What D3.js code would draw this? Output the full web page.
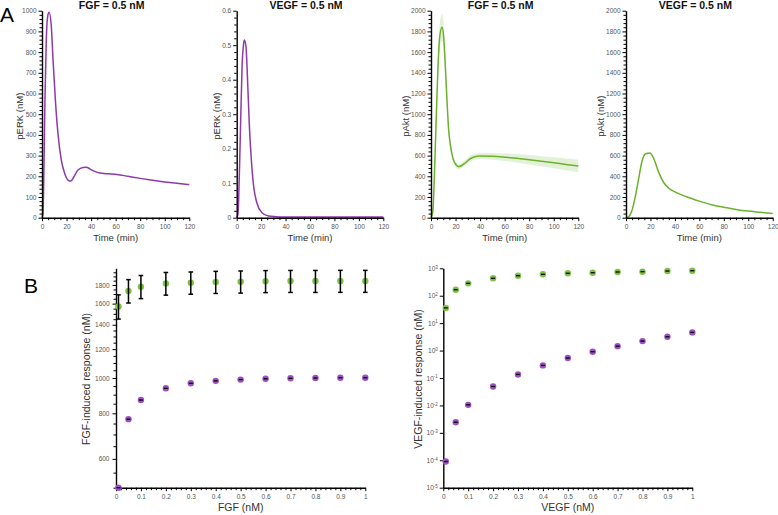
<!DOCTYPE html>
<html><head><meta charset="utf-8">
<script src="https://cdn.jsdelivr.net/npm/d3@7"></script>
<style>
body{margin:0;background:#fff}
svg{display:block}
text{font-family:"Liberation Sans",Arial,Helvetica,sans-serif}
</style>
</head><body>
<svg id="c" width="778" height="515"></svg>
<script>
// ---------------- DATA ----------------
// Panel A1: pERK, FGF = 0.5 nM
const tERK_FGF = [0, 0.8, 1.6, 2.4, 3.5, 4.6, 5.8, 7.6, 9, 10.9, 13, 15.7, 18.5, 21.2, 23.5, 26, 29.3, 33.4, 36, 39, 42, 47, 54, 61, 70, 80, 90, 100, 110, 120];
const pERK_FGF = [0, 20, 246, 568, 858, 971, 992, 923, 762, 568, 407, 279, 214, 182, 177, 198, 230, 243, 244, 236, 226, 216, 212, 209, 200, 190, 181, 173, 166, 160];
// Panel A2: pERK, VEGF = 0.5 nM
const tERK_VEGF = [0, 1, 1.6, 3, 4.4, 5.7, 6.3, 7.6, 9, 10.4, 12, 13.9, 16.6, 20.7, 26, 32, 40, 60, 80, 100, 120];
const pERK_VEGF = [0, 0.01, 0.051, 0.244, 0.438, 0.505, 0.515, 0.496, 0.389, 0.264, 0.167, 0.09, 0.042, 0.0145, 0.005, 0.003, 0.002, 0.002, 0.002, 0.002, 0.002];
// Panel A3: pAkt, FGF = 0.5 nM (with confidence band)
const tAkt_FGF = [0, 1.5, 3, 4.3, 5.7, 7.1, 9, 10.3, 11.7, 13, 14.4, 16, 17.9, 20.6, 22.5, 24.7, 27.4, 31.5, 35.6, 40, 50, 60, 70, 80, 90, 100, 110, 120];
const pAkt_FGF = [0, 60, 493, 976, 1459, 1749, 1839, 1749, 1459, 1137, 847, 686, 573, 509, 493, 502, 525, 567, 589, 596, 593, 585, 575, 560, 545, 530, 515, 500];
const pAkt_FGF_lo = [0, 55, 458, 906, 1359, 1624, 1709, 1624, 1359, 1057, 787, 641, 538, 481, 468, 477, 499, 539, 559, 566, 560, 548, 534, 515, 496, 477, 458, 440];
const pAkt_FGF_hi = [0, 65, 528, 1046, 1559, 1874, 1969, 1874, 1559, 1217, 907, 731, 608, 537, 518, 527, 551, 595, 619, 626, 626, 622, 616, 605, 594, 583, 572, 560];
// Panel A4: pAkt, VEGF = 0.5 nM
const tAkt_VEGF = [0, 2, 5, 7.6, 10.4, 13, 15.8, 19.5, 22.6, 26.7, 30.8, 35, 40, 50, 60, 70, 80, 90, 100, 110, 120];
const pAkt_VEGF = [0, 8, 74, 203, 380, 541, 615, 624, 573, 440, 340, 285, 250, 200, 160, 125, 100, 80, 64, 52, 40];

// Panel B: dose responses
const doses = [0.01, 0.05, 0.1, 0.2, 0.3, 0.4, 0.5, 0.6, 0.7, 0.8, 0.9, 1];
const fgfAkt = [1571, 1734, 1781, 1818, 1826, 1834, 1838, 1843, 1845, 1845, 1846, 1846];
const fgfAktErr = [120, 128, 130, 130, 128, 128, 128, 128, 128, 128, 128, 128];
const fgfERK = [500, 771, 870, 937, 967, 982, 990, 995, 998, 1000, 1002, 1002];
const vegfAkt = [36, 166, 283, 431, 537, 603, 660, 690, 733, 752, 795, 816];
const vegfERK = [9e-5, 2.45e-3, 0.0105, 0.049, 0.135, 0.288, 0.535, 0.91, 1.45, 2.22, 3.18, 4.6];

const timeTicks = [0, 20, 40, 60, 80, 100, 120];
const doseTicks = [0, 0.1, 0.2, 0.3, 0.4, 0.5, 0.6, 0.7, 0.8, 0.9, 1];
const fgfRespTicks = [600, 800, 1000, 1200, 1400, 1600, 1800];
const vegfRespTicks = [1e-5, 1e-4, 1e-3, 1e-2, 1e-1, 1e0, 1e1, 1e2, 1e3];

// ---------------- STYLE ----------------
const PURPLE = "#8e3aa8", GREEN = "#6cb22c";
const DOT_P = "#9d4fc4", DOT_G = "#7dc142";
const LABEL = "#555";
const TICK_FS = 6.5;
const svg = d3.select("#c");

function minors(lo, hi, step, isMajor) {
  const out = [];
  const n = Math.round((hi - lo) / step);
  for (let i = 0; i <= n; i++) {
    const v = +(lo + i * step).toFixed(6);
    if (!isMajor(v)) out.push(v);
  }
  return out;
}
function styleAxis(g) {
  g.select(".domain").attr("stroke", "#000").attr("stroke-width", 1.4);
  g.selectAll(".tick line").attr("stroke", "#000").attr("stroke-width", 1);
  g.selectAll(".tick text").attr("fill", LABEL).attr("font-size", TICK_FS);
}
function minorStyle(a) { a.select(".domain").remove(); a.selectAll("line").attr("stroke", "#000"); }

// ---------------- TOP PANELS ----------------
const TOP_Y0 = 217.7, TOP_Y1 = 10.7;
function timePanel(o) {
  const x = d3.scaleLinear().domain([0, 120]).range([o.x0, o.x1]);
  const y = d3.scaleLinear().domain([0, o.ymax]).range([TOP_Y0, TOP_Y1]);
  const g = svg.append("g");
  if (o.lo) {
    g.append("path")
      .datum(o.t.map((t, i) => [t, o.lo[i], o.hi[i]]))
      .attr("d", d3.area().x(d => x(d[0])).y0(d => y(d[1])).y1(d => y(d[2])).curve(d3.curveMonotoneX))
      .attr("fill", o.color).attr("fill-opacity", 0.18);
  }
  g.append("path")
    .datum(o.t.map((t, i) => [t, o.v[i]]))
    .attr("d", d3.line().x(d => x(d[0])).y(d => y(d[1])).curve(d3.curveMonotoneX))
    .attr("fill", "none").attr("stroke", o.color).attr("stroke-width", 1.5);

  g.append("g").attr("transform", `translate(0,${TOP_Y0})`)
    .call(d3.axisBottom(x).tickValues(minors(0, 120, 5, v => v % 20 === 0)).tickSize(2.5).tickSizeOuter(0).tickFormat(""))
    .call(minorStyle);
  g.append("g").attr("transform", `translate(${o.x0},0)`)
    .call(d3.axisLeft(y).tickValues(minors(0, o.ymax, o.minor, v => Math.abs(v / o.major - Math.round(v / o.major)) < 1e-6)).tickSize(2.5).tickSizeOuter(0).tickFormat(""))
    .call(minorStyle);
  g.append("g").attr("transform", `translate(0,${TOP_Y0})`)
    .call(d3.axisBottom(x).tickValues(timeTicks).tickSize(3.5).tickSizeOuter(0).tickPadding(3))
    .call(styleAxis);
  g.append("g").attr("transform", `translate(${o.x0},0)`)
    .call(d3.axisLeft(y).tickValues(d3.range(0, o.ymax + o.major / 2, o.major)).tickSize(3.5).tickSizeOuter(0).tickPadding(2).tickFormat(o.fmt))
    .call(styleAxis);

  g.append("text").attr("x", (o.x0 + o.x1) / 2 - 4).attr("y", 8.5).attr("text-anchor", "middle")
    .attr("font-size", 10.5).attr("font-weight", "bold").attr("fill", "#111").text(o.title);
  g.append("text").attr("x", (o.x0 + o.x1) / 2).attr("y", 240.5).attr("text-anchor", "middle")
    .attr("font-size", 9.5).attr("fill", "#333").text("Time (min)");
  g.append("text").attr("transform", `translate(${o.x0 - o.labOff},${(TOP_Y0 + TOP_Y1) / 2 + 2}) rotate(-90)`)
    .attr("text-anchor", "middle").attr("font-size", 9.5).attr("fill", "#333").text(o.ylabel);
}

timePanel({x0: 42, x1: 189.3, ymax: 1000, major: 100, minor: 20, fmt: d3.format("d"), labOff: 19.5,
  t: tERK_FGF, v: pERK_FGF, color: PURPLE, title: "FGF = 0.5 nM", ylabel: "pERK (nM)"});
timePanel({x0: 236.7, x1: 383.3, ymax: 0.6, major: 0.1, minor: 0.02, fmt: d => d === 0 ? "0" : d3.format(".1f")(d), labOff: 16.5,
  t: tERK_VEGF, v: pERK_VEGF, color: PURPLE, title: "VEGF = 0.5 nM", ylabel: "pERK (nM)"});
timePanel({x0: 431, x1: 578.3, ymax: 2000, major: 200, minor: 40, fmt: d3.format("d"), labOff: 22.5,
  t: tAkt_FGF, v: pAkt_FGF, lo: pAkt_FGF_lo, hi: pAkt_FGF_hi, color: GREEN, title: "FGF = 0.5 nM", ylabel: "pAkt (nM)"});
timePanel({x0: 626, x1: 772.7, ymax: 2000, major: 200, minor: 40, fmt: d3.format("d"), labOff: 22.5,
  t: tAkt_VEGF, v: pAkt_VEGF, color: GREEN, title: "VEGF = 0.5 nM", ylabel: "pAkt (nM)"});

svg.append("text").attr("x", 0).attr("y", 22).attr("font-size", 21).attr("fill", "#000").text("A");
svg.append("text").attr("x", 24).attr("y", 293).attr("font-size", 21).attr("fill", "#000").text("B");

// ---------------- BOTTOM PANELS ----------------
const BOT_Y0 = 487.7, BOT_Y1 = 268.3;
const doseFmt = d => d === 0 ? "0" : d === 1 ? "1" : d3.format(".1f")(d);

function doseAxes(g, x) {
  g.append("g").attr("transform", `translate(0,${BOT_Y0})`)
    .call(d3.axisBottom(x).tickValues(minors(0, 1, 0.02, v => Math.abs(v * 10 - Math.round(v * 10)) < 1e-6)).tickSize(2.5).tickSizeOuter(0).tickFormat(""))
    .call(minorStyle);
  g.append("g").attr("transform", `translate(0,${BOT_Y0})`)
    .call(d3.axisBottom(x).tickValues(doseTicks).tickSize(3.5).tickSizeOuter(0).tickPadding(3).tickFormat(doseFmt))
    .call(styleAxis);
}
function drawDots(g, x, y, vals, fill, dash) {
  g.selectAll(null).data(doses).join("circle")
    .attr("cx", d => x(d)).attr("cy", (d, i) => y(vals[i])).attr("r", 3.2).attr("fill", fill);
  if (dash) {
    g.selectAll(null).data(doses).join("line")
      .attr("x1", d => x(d) - 2).attr("x2", d => x(d) + 2)
      .attr("y1", (d, i) => y(vals[i])).attr("y2", (d, i) => y(vals[i]))
      .attr("stroke", "#000").attr("stroke-width", 1.3);
  }
}

// B-left
{
  const x = d3.scaleLinear().domain([0, 1]).range([116, 365.3]);
  const y = d3.scaleLog().domain([500, 2000]).range([BOT_Y0, BOT_Y1]);
  const g = svg.append("g");
  g.append("g").attr("transform", `translate(116,0)`)
    .call(d3.axisLeft(y).tickValues(minors(500, 1950, 50, v => fgfRespTicks.includes(v))).tickSize(2.5).tickSizeOuter(0).tickFormat(""))
    .call(minorStyle);
  g.append("g").attr("transform", `translate(116,0)`)
    .call(d3.axisLeft(y).tickValues(fgfRespTicks).tickSize(3.5).tickSizeOuter(0).tickPadding(3).tickFormat(d3.format("d")))
    .call(styleAxis);
  doseAxes(g, x);
  drawDots(g, x, y, fgfAkt, DOT_G, false);
  const eb = g.selectAll(null).data(doses).join("g").attr("stroke", "#000").attr("stroke-width", 1.5);
  eb.append("line").attr("x1", d => x(d)).attr("x2", d => x(d))
    .attr("y1", (d, i) => y(fgfAkt[i] + fgfAktErr[i])).attr("y2", (d, i) => y(fgfAkt[i] - fgfAktErr[i]));
  eb.append("line").attr("x1", d => x(d) - 2.3).attr("x2", d => x(d) + 2.3)
    .attr("y1", (d, i) => y(fgfAkt[i] + fgfAktErr[i])).attr("y2", (d, i) => y(fgfAkt[i] + fgfAktErr[i]));
  eb.append("line").attr("x1", d => x(d) - 2.3).attr("x2", d => x(d) + 2.3)
    .attr("y1", (d, i) => y(fgfAkt[i] - fgfAktErr[i])).attr("y2", (d, i) => y(fgfAkt[i] - fgfAktErr[i]));
  drawDots(g, x, y, fgfERK, DOT_P, true);
  g.append("text").attr("x", (116 + 365.3) / 2).attr("y", 511).attr("text-anchor", "middle")
    .attr("font-size", 10.5).attr("fill", "#333").text("FGF (nM)");
  g.append("text").attr("transform", `translate(90,${(BOT_Y0 + BOT_Y1) / 2 + 1}) rotate(-90)`)
    .attr("text-anchor", "middle").attr("font-size", 10.5).attr("fill", "#333").text("FGF-induced response (nM)");
}

// B-right
{
  const x = d3.scaleLinear().domain([0, 1]).range([443.3, 692.3]);
  const y = d3.scaleLog().domain([1e-5, 1e3]).range([BOT_Y0, BOT_Y1]);
  const g = svg.append("g");
  const ya = g.append("g").attr("transform", `translate(443.3,0)`)
    .call(d3.axisLeft(y).tickValues(vegfRespTicks).tickSize(3.5).tickSizeOuter(0).tickPadding(3).tickFormat(""))
    .call(styleAxis);
  ya.selectAll(".tick").each(function(d) {
    const t = d3.select(this).append("text").attr("x", -5.5).attr("dy", "0.32em")
      .attr("text-anchor", "end").attr("fill", LABEL).attr("font-size", 6.5);
    t.append("tspan").text("10");
    t.append("tspan").attr("dy", "-0.5em").attr("font-size", 4.5).text(Math.round(Math.log10(d)));
  });
  doseAxes(g, x);
  drawDots(g, x, y, vegfAkt, DOT_G, true);
  drawDots(g, x, y, vegfERK, DOT_P, true);
  g.append("text").attr("x", (443.3 + 692.3) / 2).attr("y", 511).attr("text-anchor", "middle")
    .attr("font-size", 10.5).attr("fill", "#333").text("VEGF (nM)");
  g.append("text").attr("transform", `translate(421.5,${(BOT_Y0 + BOT_Y1) / 2 + 1}) rotate(-90)`)
    .attr("text-anchor", "middle").attr("font-size", 10.5).attr("fill", "#333").text("VEGF-induced response (nM)");
}
</script>
</body></html>
